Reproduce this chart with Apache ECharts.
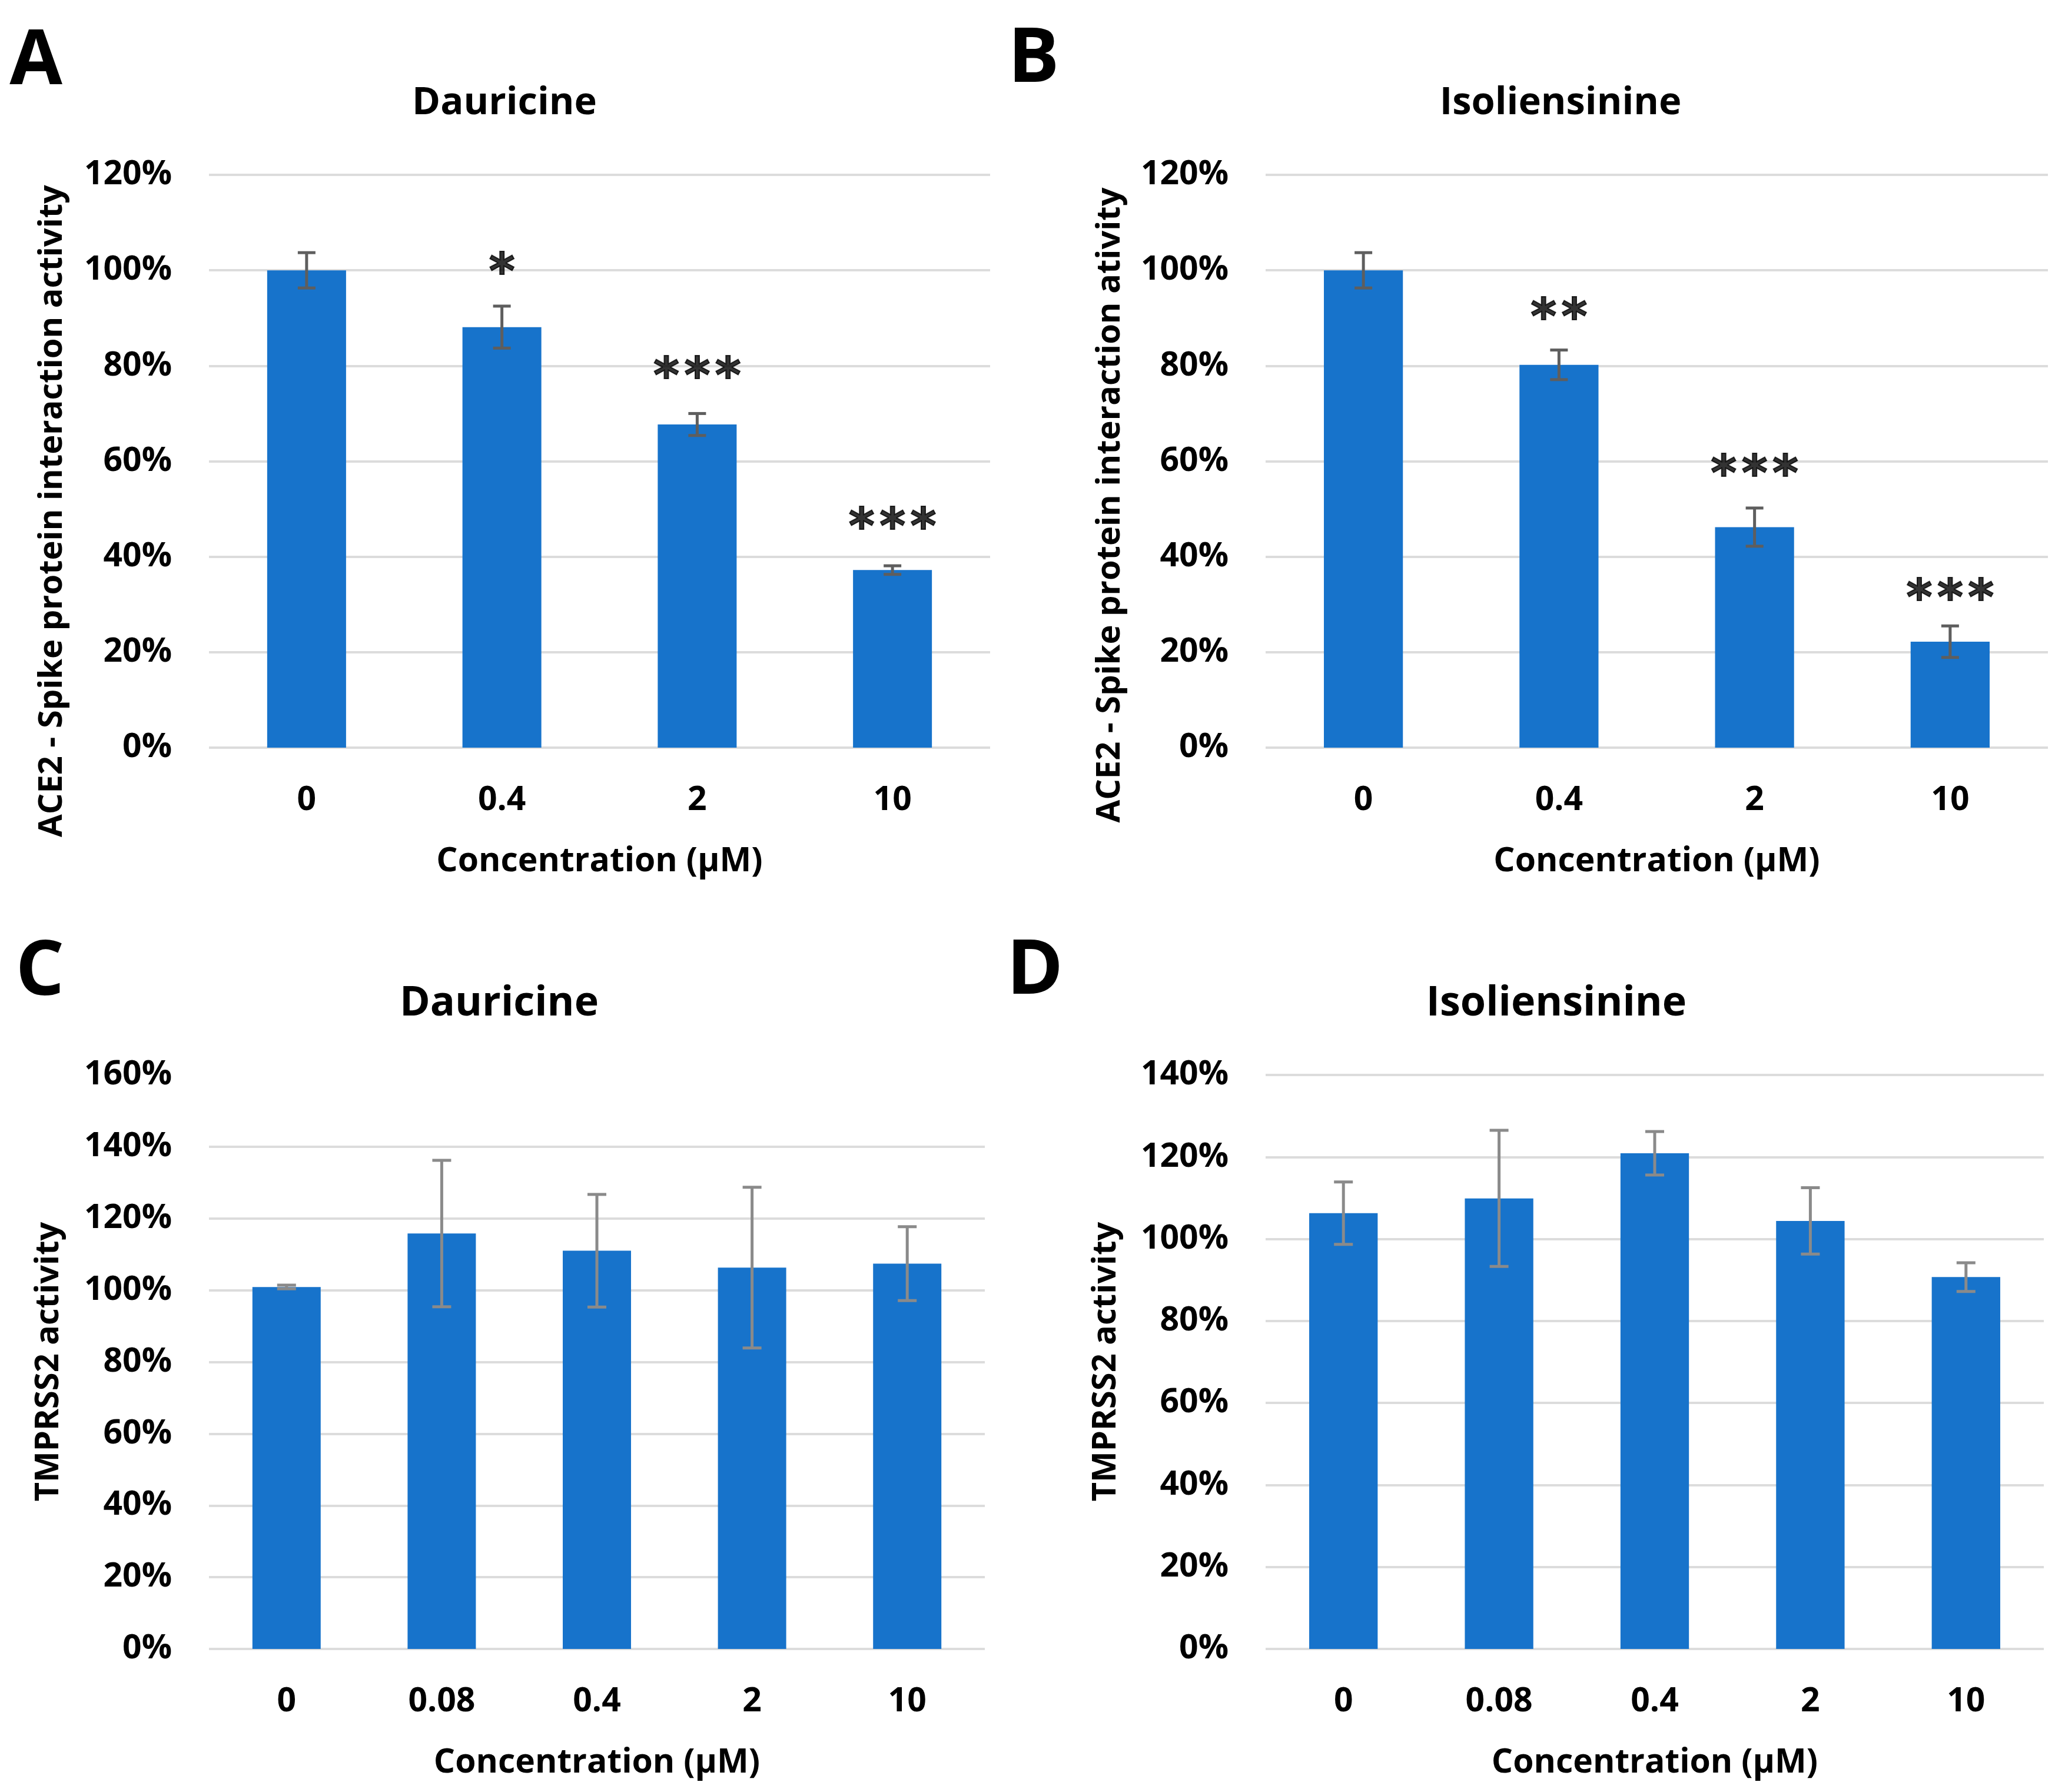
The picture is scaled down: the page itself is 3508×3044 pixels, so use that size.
<!DOCTYPE html>
<html><head><meta charset="utf-8">
<script src="https://cdn.jsdelivr.net/npm/echarts@6/dist/echarts.min.js"></script>
<style>html,body{margin:0;padding:0;background:#fff}#c{width:3508px;height:3044px}</style>
</head><body><div id="c"></div>
<script>
// ---- data ----
const catsAB = ['0', '0.4', '2', '10'];
const catsCD = ['0', '0.08', '0.4', '2', '10'];

const meanA = [100, 88.1, 67.7, 37.2];
const errA  = [3.7, 4.4, 2.3, 0.9];
const sigA  = ['', '*', '***', '***'];
const sigYA = [null, 101.3, 79.5, 48];

const meanB = [100, 80.2, 46.2, 22.2];
const errB  = [3.7, 3.1, 4.0, 3.3];
const sigB  = ['', '**', '***', '***'];
const sigYB = [null, 91.9, 59, 33];

const meanC = [100.9, 115.8, 111.0, 106.3, 107.4];
const errC  = [0.5, 20.4, 15.7, 22.4, 10.3];

const meanD = [106.3, 109.9, 120.9, 104.4, 90.7];
const errD  = [7.6, 16.6, 5.3, 8.1, 3.5];

const yTicksAB = [0, 120, 20];   // min, max, step
const yTicksC  = [0, 160, 20];
const yTicksD  = [0, 140, 20];

// ---- style ----
const FONT = '"Open Sans", "Noto Sans", sans-serif';
const BAR = '#1773CB';
const GRIDC = '#dcdcdc';

const chart = echarts.init(document.getElementById('c'), null, {renderer: 'canvas'});

const grids = [
  {left: 355, top: 297, width: 1327, height: 973},
  {left: 2150, top: 297, width: 1329, height: 973},
  {left: 355, top: 1826, width: 1318, height: 975},
  {left: 2150, top: 1826, width: 1322, height: 975}
];

function xAx(gi, cats) {
  return {
    type: 'category', gridIndex: gi, data: cats,
    axisLine: {show: false}, axisTick: {show: false},
    axisLabel: {fontSize: 57, fontWeight: 'bold', fontFamily: FONT, color: '#000', margin: 61},
    name: 'Concentration (\u00b5M)', nameLocation: 'middle', nameGap: 165,
    nameTextStyle: {fontSize: 57, fontWeight: 'bold', fontFamily: FONT, color: '#000'}
  };
}
function yAx(gi, t, showMax) {
  return {
    type: 'value', gridIndex: gi, min: t[0], max: t[1], interval: t[2],
    axisLine: {show: false}, axisTick: {show: false},
    axisLabel: {formatter: '{value}%', fontSize: 57, fontWeight: 'bold', fontFamily: FONT, color: '#000', margin: 63,
      padding: [4, 0, 0, 0]},
    splitLine: {show: true, showMaxLine: showMax, lineStyle: {color: GRIDC, width: 4}}
  };
}
function barS(gi, means, w) {
  return {type: 'bar', xAxisIndex: gi, yAxisIndex: gi, data: means, barWidth: w,
    itemStyle: {color: BAR}, z: 2};
}
function errS(gi, means, errs, color, hw) {
  return {
    type: 'custom', xAxisIndex: gi, yAxisIndex: gi, z: 5,
    encode: {x: 0, y: [1, 2]},
    data: means.map((m, i) => [i, m - errs[i], m + errs[i]]),
    renderItem(params, api) {
      const lo = api.coord([api.value(0), api.value(1)]);
      const hi = api.coord([api.value(0), api.value(2)]);
      const st = {stroke: color, lineWidth: 5};
      return {type: 'group', children: [
        {type: 'line', shape: {x1: lo[0], y1: lo[1], x2: hi[0], y2: hi[1]}, style: st},
        {type: 'line', shape: {x1: lo[0] - hw, y1: lo[1], x2: lo[0] + hw, y2: lo[1]}, style: st},
        {type: 'line', shape: {x1: hi[0] - hw, y1: hi[1], x2: hi[0] + hw, y2: hi[1]}, style: st}
      ]};
    }
  };
}
function sigS(gi, sig, sigY) {
  const data = [];
  sig.forEach((s, i) => { if (s) data.push({value: [i, sigY[i]], name: s}); });
  return {
    type: 'scatter', xAxisIndex: gi, yAxisIndex: gi, symbolSize: 1, z: 6,
    itemStyle: {color: 'rgba(0,0,0,0)'},
    data,
    label: {show: true, position: 'inside',
      formatter: p => p.name.split('').join('\u200A'),
      fontSize: 84, fontFamily: '"DejaVu Sans", sans-serif', fontWeight: 'bold', color: '#000',
      textBorderColor: '#000', textBorderWidth: 2,
      offset: [0, 19]}
  };
}

function txt(x, y, text, size, rot) {
  return {type: 'text', x, y, rotation: rot || 0, silent: true,
    style: {text, fontSize: size, fontWeight: 'bold', fontFamily: FONT, fill: '#000',
      align: 'center', verticalAlign: 'middle'}};
}

const option = {
  animation: false,
  backgroundColor: '#fff',
  grid: grids,
  xAxis: [xAx(0, catsAB), xAx(1, catsAB), xAx(2, catsCD), xAx(3, catsCD)],
  yAxis: [yAx(0, yTicksAB, true), yAx(1, yTicksAB, true), yAx(2, yTicksC, false), yAx(3, yTicksD, true)],
  series: [
    barS(0, meanA, '40.4%'), errS(0, meanA, errA, '#5e5e5e', 15), sigS(0, sigA, sigYA),
    barS(1, meanB, '40.4%'), errS(1, meanB, errB, '#5e5e5e', 15), sigS(1, sigB, sigYB),
    barS(2, meanC, '44%'), errS(2, meanC, errC, '#8a8a8a', 16),
    barS(3, meanD, '44%'), errS(3, meanD, errD, '#8a8a8a', 16)
  ],
  graphic: [
    txt(61, 106, 'A', 130), txt(1756, 102, 'B', 130),
    txt(68, 1653, 'C', 130), txt(1758, 1651, 'D', 130),
    txt(857, 175, 'Dauricine', 65), txt(2651, 175, 'Isoliensinine', 65),
    txt(848, 1705, 'Dauricine', 70), txt(2644, 1705, 'Isoliensinine', 70),
    txt(89, 868, 'ACE2 - Spike protein interaction activity', 56, Math.PI / 2),
    txt(1886, 858, 'ACE2 - Spike protein interaction ativity', 56, Math.PI / 2),
    txt(83, 2313, 'TMPRSS2 activity', 56, Math.PI / 2),
    txt(1879, 2313, 'TMPRSS2 activity', 56, Math.PI / 2)
  ]
};
chart.setOption(option);
</script>
</body></html>
